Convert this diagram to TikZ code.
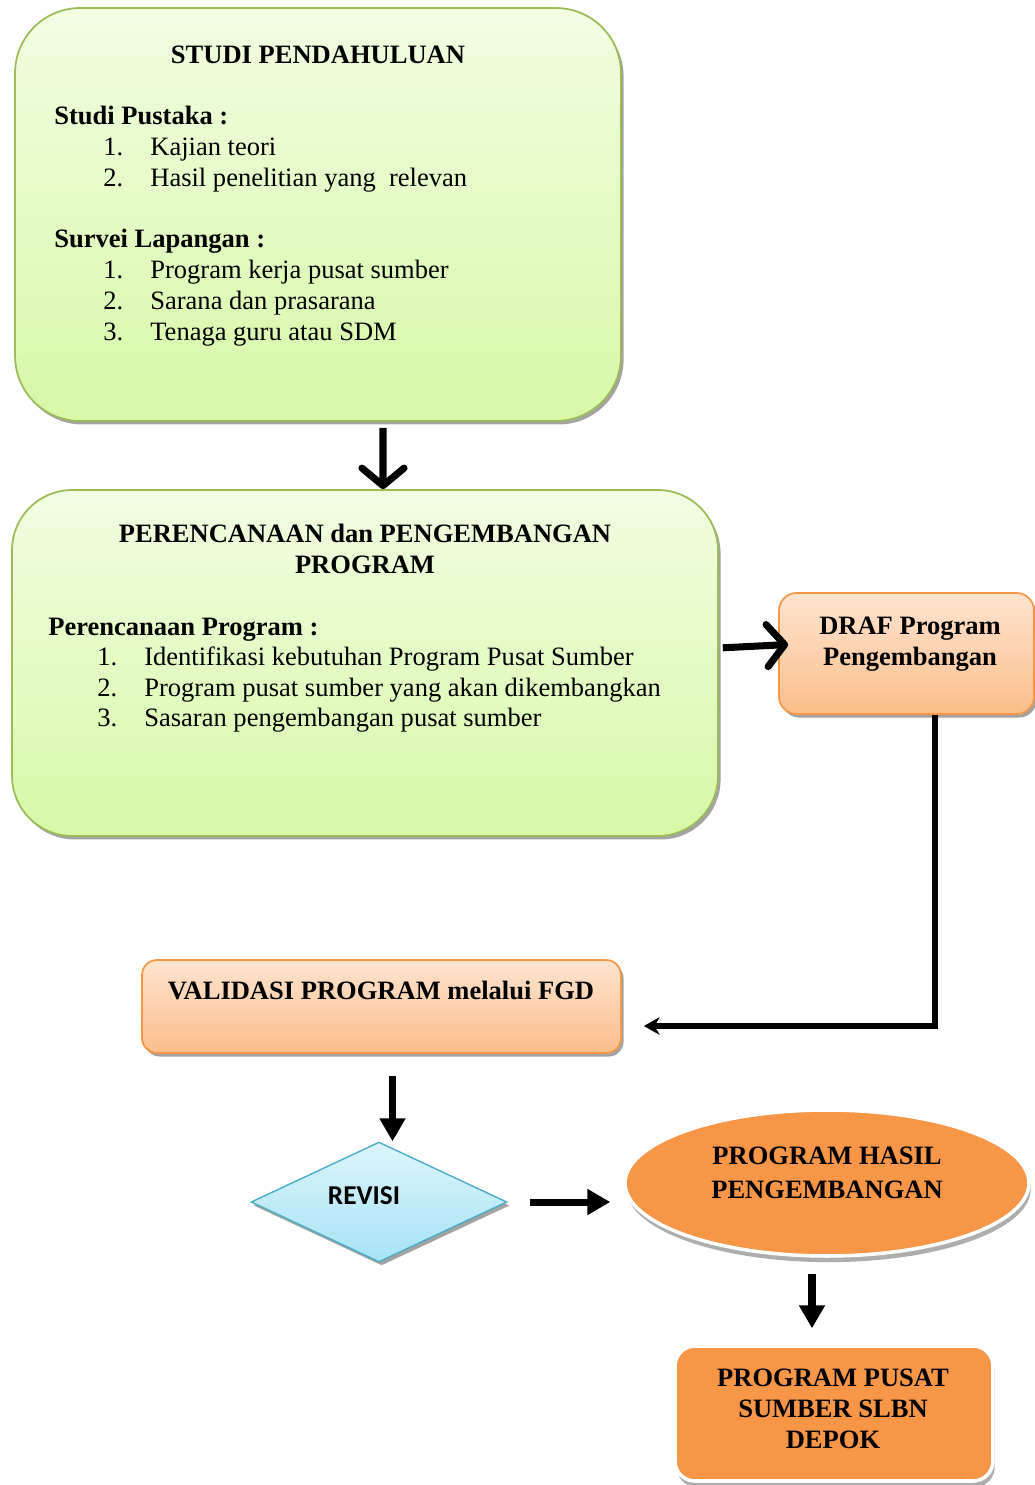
\documentclass[tikz,border=0pt]{standalone}
\usepackage{fontspec}
\setmainfont{Liberation Serif}
\newfontfamily\calibri{Carlito}
\usetikzlibrary{arrows.meta,shapes.geometric,shadows}

\definecolor{greentop}{HTML}{F2FDE2}
\definecolor{greenbot}{HTML}{D6F8A6}
\definecolor{greenline}{HTML}{9BBB59}
\definecolor{peachtop}{HTML}{FDE4CF}
\definecolor{peachbot}{HTML}{FCBE8B}
\definecolor{orangeline}{HTML}{F79646}
\definecolor{cyantop}{HTML}{DDF4FB}
\definecolor{cyanbot}{HTML}{A6E3F5}
\definecolor{cyanline}{HTML}{4BACC6}

\tikzset{
  txt/.style={inner sep=0, font=\fontsize{15.1}{17.6}\selectfont},
  btxt/.style={txt, font=\fontsize{15.1}{17.6}\selectfont\bfseries},
  boxshadow/.style={drop shadow={shadow xshift=1.5pt, shadow yshift=-2pt, fill=black!45, opacity=.8}},
  greenbox/.style={rectangle, rounded corners=1.3cm, draw=greenline, line width=1pt,
    top color=greentop, bottom color=greenbot, boxshadow},
  peachbox/.style={rectangle, rounded corners=0.35cm, draw=orangeline, line width=1pt,
    top color=peachtop, bottom color=peachbot, boxshadow},
  fullbox/.style={draw=white, line width=2pt, fill=orangeline,
    drop shadow={shadow xshift=1pt, shadow yshift=-3.5pt, fill=black!40, opacity=.8}},
  barb/.style={line width=4pt, -{Straight Barb[round, length=10pt, width=24pt]}},
  fatarrow/.style={line width=4pt, -{Triangle[length=13pt, width=14pt]}},
  elbow/.style={line width=3pt, -{Stealth[length=9pt, width=10pt]}}
}

\begin{document}
\begin{tikzpicture}[x=0.02cm, y=-0.02cm]
    \useasboundingbox (0,0) rectangle (1035,1485);

    %% =========================================================
    %% STUDI PENDAHULUAN  (x 15..621, y 8..421)
    %% =========================================================
    \node[greenbox, minimum width=12.12cm, minimum height=8.26cm] (studi) at (318,214.5) {};
    \node[btxt, anchor=base] (studiT) at (318,63) {STUDI PENDAHULUAN};

    \node[btxt, anchor=base west] (pustaka) at (54,124) {Studi Pustaka :};
    \foreach \n/\y/\t in {1/155/Kajian teori, 2/186/Hasil penelitian yang\ \ relevan}{
      \node[txt, anchor=base west] (pustakaN\n) at (103,\y) {\n.};
      \node[txt, anchor=base west] (pustaka\n) at (150,\y) {\t};
    }

    \node[btxt, anchor=base west] (survei) at (54,247) {Survei Lapangan :};
    \foreach \n/\y/\t in {1/278/Program kerja pusat sumber,
                          2/309/Sarana dan prasarana,
                          3/340/Tenaga guru atau SDM}{
      \node[txt, anchor=base west] (surveiN\n) at (103,\y) {\n.};
      \node[txt, anchor=base west] (survei\n) at (150,\y) {\t};
    }

    %% =========================================================
    %% PERENCANAAN  (x 12..718, y 490..836)
    %% =========================================================
    \node[greenbox, rounded corners=1.2cm, minimum width=14.12cm, minimum height=6.92cm] (renc) at (365,663) {};
    \node[btxt, anchor=base] (rencT1) at (365,542) {PERENCANAAN dan PENGEMBANGAN};
    \node[btxt, anchor=base] (rencT2) at (365,573) {PROGRAM};

    \node[btxt, anchor=base west] (rprog) at (48,635) {Perencanaan Program :};
    \foreach \n/\y/\t in {1/665/Identifikasi kebutuhan Program Pusat Sumber,
                          2/696/Program pusat sumber yang akan dikembangkan,
                          3/726/Sasaran pengembangan pusat sumber}{
      \node[txt, anchor=base west] (rprogN\n) at (97,\y) {\n.};
      \node[txt, anchor=base west] (rprog\n) at (144,\y) {\t};
    }

    %% DRAF  (x 779..1034, y 593..714)
    \node[peachbox, minimum width=5.1cm, minimum height=2.42cm] (draf) at (906.5,653.5) {};
    \node[btxt, anchor=base] (drafT1) at (910,634) {DRAF Program};
    \node[btxt, anchor=base] (drafT2) at (910,665) {Pengembangan};

    %% VALIDASI  (x 142..621, y 960..1053)
    \node[peachbox, rounded corners=0.3cm, minimum width=9.58cm, minimum height=1.86cm] (valid) at (381.5,1006.5) {};
    \node[btxt, anchor=base] (validT) at (381,999) {VALIDASI PROGRAM melalui FGD};

    %% REVISI diamond  (x 250..506, y 1142..1262)
    \node[diamond, inner sep=0, minimum width=5.12cm, minimum height=2.4cm, draw=cyanline,
          line width=0.8pt, top color=cyantop, bottom color=cyanbot, boxshadow] (revisi) at (379,1202) {};
    \node[inner sep=0, anchor=base, font=\calibri\fontsize{15.5}{18}\selectfont\bfseries] (revisiT) at (364,1204) {REVISI};

    %% PROGRAM HASIL ellipse  (x 625..1029, y 1110..1256)
    \node[ellipse, fullbox, minimum width=8.08cm, minimum height=2.92cm] (hasil) at (827,1183) {};
    \node[btxt, anchor=base] (hasilT1) at (827,1164) {PROGRAM HASIL};
    \node[btxt, anchor=base] (hasilT2) at (827,1198) {PENGEMBANGAN};

    %% PROGRAM PUSAT SUMBER  (x 675..993, y 1346..1481)
    \node[rectangle, rounded corners=0.4cm, fullbox, minimum width=6.36cm, minimum height=2.7cm] (pusat) at (834,1413.5) {};
    \node[btxt, anchor=base] (pusatT1) at (833,1386) {PROGRAM PUSAT};
    \node[btxt, anchor=base] (pusatT2) at (833,1417) {SUMBER SLBN};
    \node[btxt, anchor=base] (pusatT3) at (833,1448) {DEPOK};

    %% ARROWS
    \draw[barb, shorten <=0.12cm] ([xshift=1.3cm]studi.south) -- ([xshift=0.36cm]renc.north);
    \draw[barb, shorten <=0.08cm, shorten >=-0.2cm] ([yshift=0.3cm]renc.east) -- ([yshift=0.17cm]draf.west);

    \coordinate (bend) at (935,1026);
    \draw[elbow, shorten >=0.44cm] (draf.south -| bend) -- (bend) -- (valid.east |- bend);

    \draw[fatarrow, shorten <=0.44cm] ([xshift=0.22cm]valid.south) -- ([xshift=0.22cm]valid.south |- revisi.north);
    \draw[fatarrow, shorten <=0.44cm, shorten >=0.26cm] (revisi.east) -- (hasil.west |- revisi.east);
    \draw[fatarrow, shorten <=0.32cm, shorten >=0.32cm] ([xshift=-0.3cm]hasil.south) -- ([xshift=-0.3cm]hasil.south |- pusat.north);

\end{tikzpicture}
\end{document}
